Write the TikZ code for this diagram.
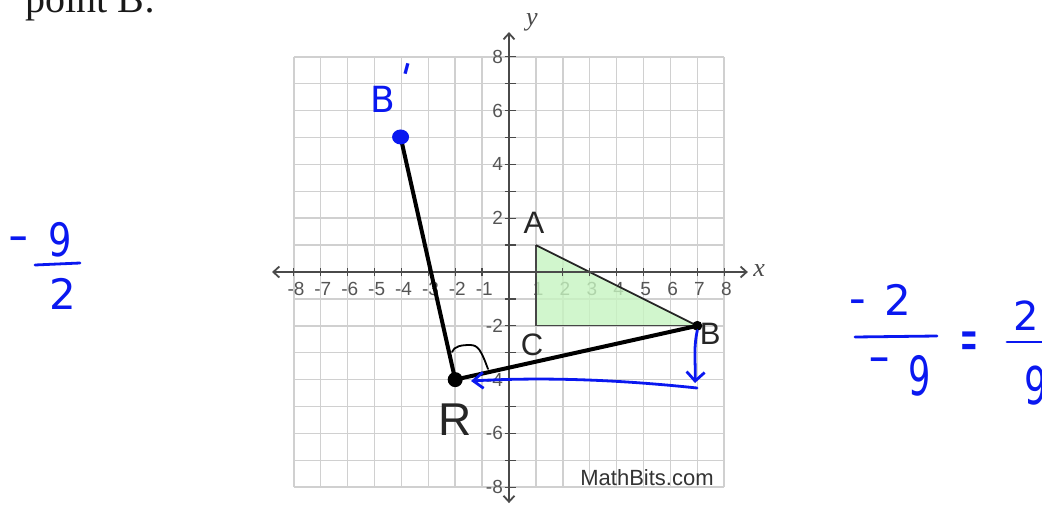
\documentclass[tikz,border=0pt]{standalone}
\usepackage{fontspec}
\setmainfont{Liberation Serif}
\newfontfamily\arialf{Liberation Sans}
\newfontfamily\handf{DejaVu Sans}
\usetikzlibrary{arrows.meta,calc,shapes.geometric}
\definecolor{gridgray}{HTML}{D0D0D0}
\definecolor{axisgray}{HTML}{4A4A4A}
\definecolor{labgray}{HTML}{555555}
\definecolor{trifill}{HTML}{C6F4C0}
\definecolor{ink}{HTML}{0A18F0}
\begin{document}
\begin{tikzpicture}[x=26.9pt,y=26.9pt,
  ticklab/.style={font=\arialf\fontsize{19}{19}\selectfont, text=labgray, inner sep=0pt},
  ptlab/.style={font=\arialf\fontsize{31}{31}\selectfont, text=black!85, inner sep=0pt},
  hand/.style={font=\handf\fontsize{42}{42}\selectfont, text=ink, inner sep=0pt},
  minus/.style={font=\handf\fontsize{44}{44}\selectfont, text=ink, inner sep=0pt},
  inkline/.style={draw=ink, line width=2.8pt, line cap=round, line join=round},
  segline/.style={draw=black, line width=4pt},
  axisline/.style={draw=axisgray, line width=1.8pt},
  barb/.tip={Straight Barb[length=6pt,width=11pt]}]
\useasboundingbox (-18.922,-8.736) rectangle (19.814,10.112);
% grid
\draw[gridgray, line width=1.5pt, step=1] (-8,-8) grid (8,8);
% tick labels
\foreach \i in {-8,-7,-6,-5,-4,-3,-2,-1,1,2,3,4,5,6,7,8}
  \node[ticklab] at (\i+0.08,-0.64) {\i};
\foreach \i in {-8,-6,-4,-2,2,4,6,8}
  \node[ticklab, anchor=east] at (-0.22,\i) {\i};
% triangle
\coordinate (A) at (1,1);
\coordinate (Bv) at (7,-2);
\coordinate (C) at (1,-2);
\fill[trifill, fill opacity=0.8] (A) -- (Bv) -- (C) -- cycle;
\draw[gray!55!black, line width=1.3pt] (A) -- (C) -- (Bv);
\draw[black!85, line width=1.8pt] (A) -- (Bv);
% axes
\draw[axisline, barb-barb] (-8.81,0) -- (8.88,0);
\draw[axisline, barb-barb] (0,-8.59) -- (0,8.92);
\foreach \i in {-8,...,8} \draw[axisline, line width=1.3pt] (\i,-0.15) -- (\i,0.15);
\foreach \i in {-8,...,8} \draw[axisline, line width=1.3pt] (-0.15,\i) -- (0.25,\i);
\node[font=\itshape\fontsize{26}{26}\selectfont, text=axisgray] (xl) at (9.3,0.05) {x};
\node[font=\itshape\fontsize{26}{26}\selectfont, text=axisgray] (yl) at (0.85,9.3) {y};
% point labels
\node[ptlab] (lA) at (0.93,1.82) {A};
\node[ptlab] (lC) at (0.86,-2.71) {C};
\node[ptlab] (lB) at (7.48,-2.30) {B};
\node[ptlab, font=\arialf\fontsize{46}{46}\selectfont] (lR) at (-2.01,-5.50) {R};
\node[font=\arialf\fontsize{22}{22}\selectfont, text=black!80, inner sep=0pt] (mb) at (5.13,-7.66) {MathBits.com};
% points
\node[circle, inner sep=0pt, minimum size=14pt] (R) at (-2,-4) {};
\node[circle, inner sep=0pt, minimum size=9pt] (Bpt) at (7,-2) {};
\node[ellipse, inner sep=0pt, minimum width=16pt, minimum height=14pt] (Bp) at (-4.03,5.02) {};
\draw[segline] (R.center) -- (Bpt.center);
\draw[segline] (R.center) -- (Bp.center);
\fill[black] (R) circle (7.5pt);
\fill[black] (Bpt) circle (5pt);
\fill[ink] (Bp) ellipse (8.5pt and 7.5pt);
% pixel-based annotations
\begin{scope}[shift={(-18.922,10.112)}, x=1pt, y=-1pt]
  % question text (cut off at top)
  \node[anchor=base west, font=\fontsize{40}{40}\selectfont, text=black!90, inner sep=0pt] (q) at (25,13) {point B:};
  % right angle mark
  \draw[black, line width=1.8pt, line cap=round, line join=round]
    (452,352) .. controls (454,346) and (462,345) .. (470,345)
    .. controls (478,345) and (481,350) .. (488,369);
  % blue arrows
  \coordinate (b1) at (695,383);
  \coordinate (b2) at (697,388);
  \coordinate (rtip) at (471,381);
  \draw[inkline, -{Straight Barb[length=9pt,width=18pt]}] (Bpt.south) .. controls (693,350) and (696,365) .. (b1);
  \draw[inkline, -{Straight Barb[length=10pt,width=16pt]}] (b2) .. controls (640,382) and (560,376) .. (rtip);
  % B'
  \node[hand, font=\handf\fontsize{36}{36}\selectfont] (Bpl) at (383,99) {B};
  \node[hand, font=\handf\fontsize{40}{40}\selectfont] (prime) at (405,78) {\rotatebox{-15}{\textquotesingle}};
  % left: -9/2
  \node[minus] (m1) at (19,245) {\scalebox{0.55}[1]{−}};
  \node[hand, font=\handf\fontsize{46}{46}\selectfont] (n9) at (60,240) {\scalebox{0.8}[1]{9}};
  \node[hand] (n2) at (63,294) {2};
  \draw[inkline] (35,265) -- (80,263);
  % right: -2/-9 = 2/9
  \node[minus] (m2) at (858,308) {\scalebox{0.45}[1]{−}};
  \node[hand] (r2) at (898,300) {2};
  \draw[inkline] (855,337) -- (937,336);
  \node[minus] (m3) at (880,366) {\scalebox{0.6}[1]{−}};
  \node[hand, font=\handf\fontsize{54}{54}\selectfont] (r9) at (920,376) {\scalebox{0.65}[1]{9}};
  \node[hand] (eq) at (969,346) {\scalebox{0.5}[1.5]{=}};
  \node[hand, font=\handf\fontsize{40}{40}\selectfont] (s2) at (1026,316) {2};
  \draw[inkline] (1007,342) -- (1042,342);
  \node[hand, font=\handf\fontsize{52}{52}\selectfont] (s9) at (1036,386) {\scalebox{0.7}[1]{9}};
\end{scope}
\end{tikzpicture}
\end{document}
